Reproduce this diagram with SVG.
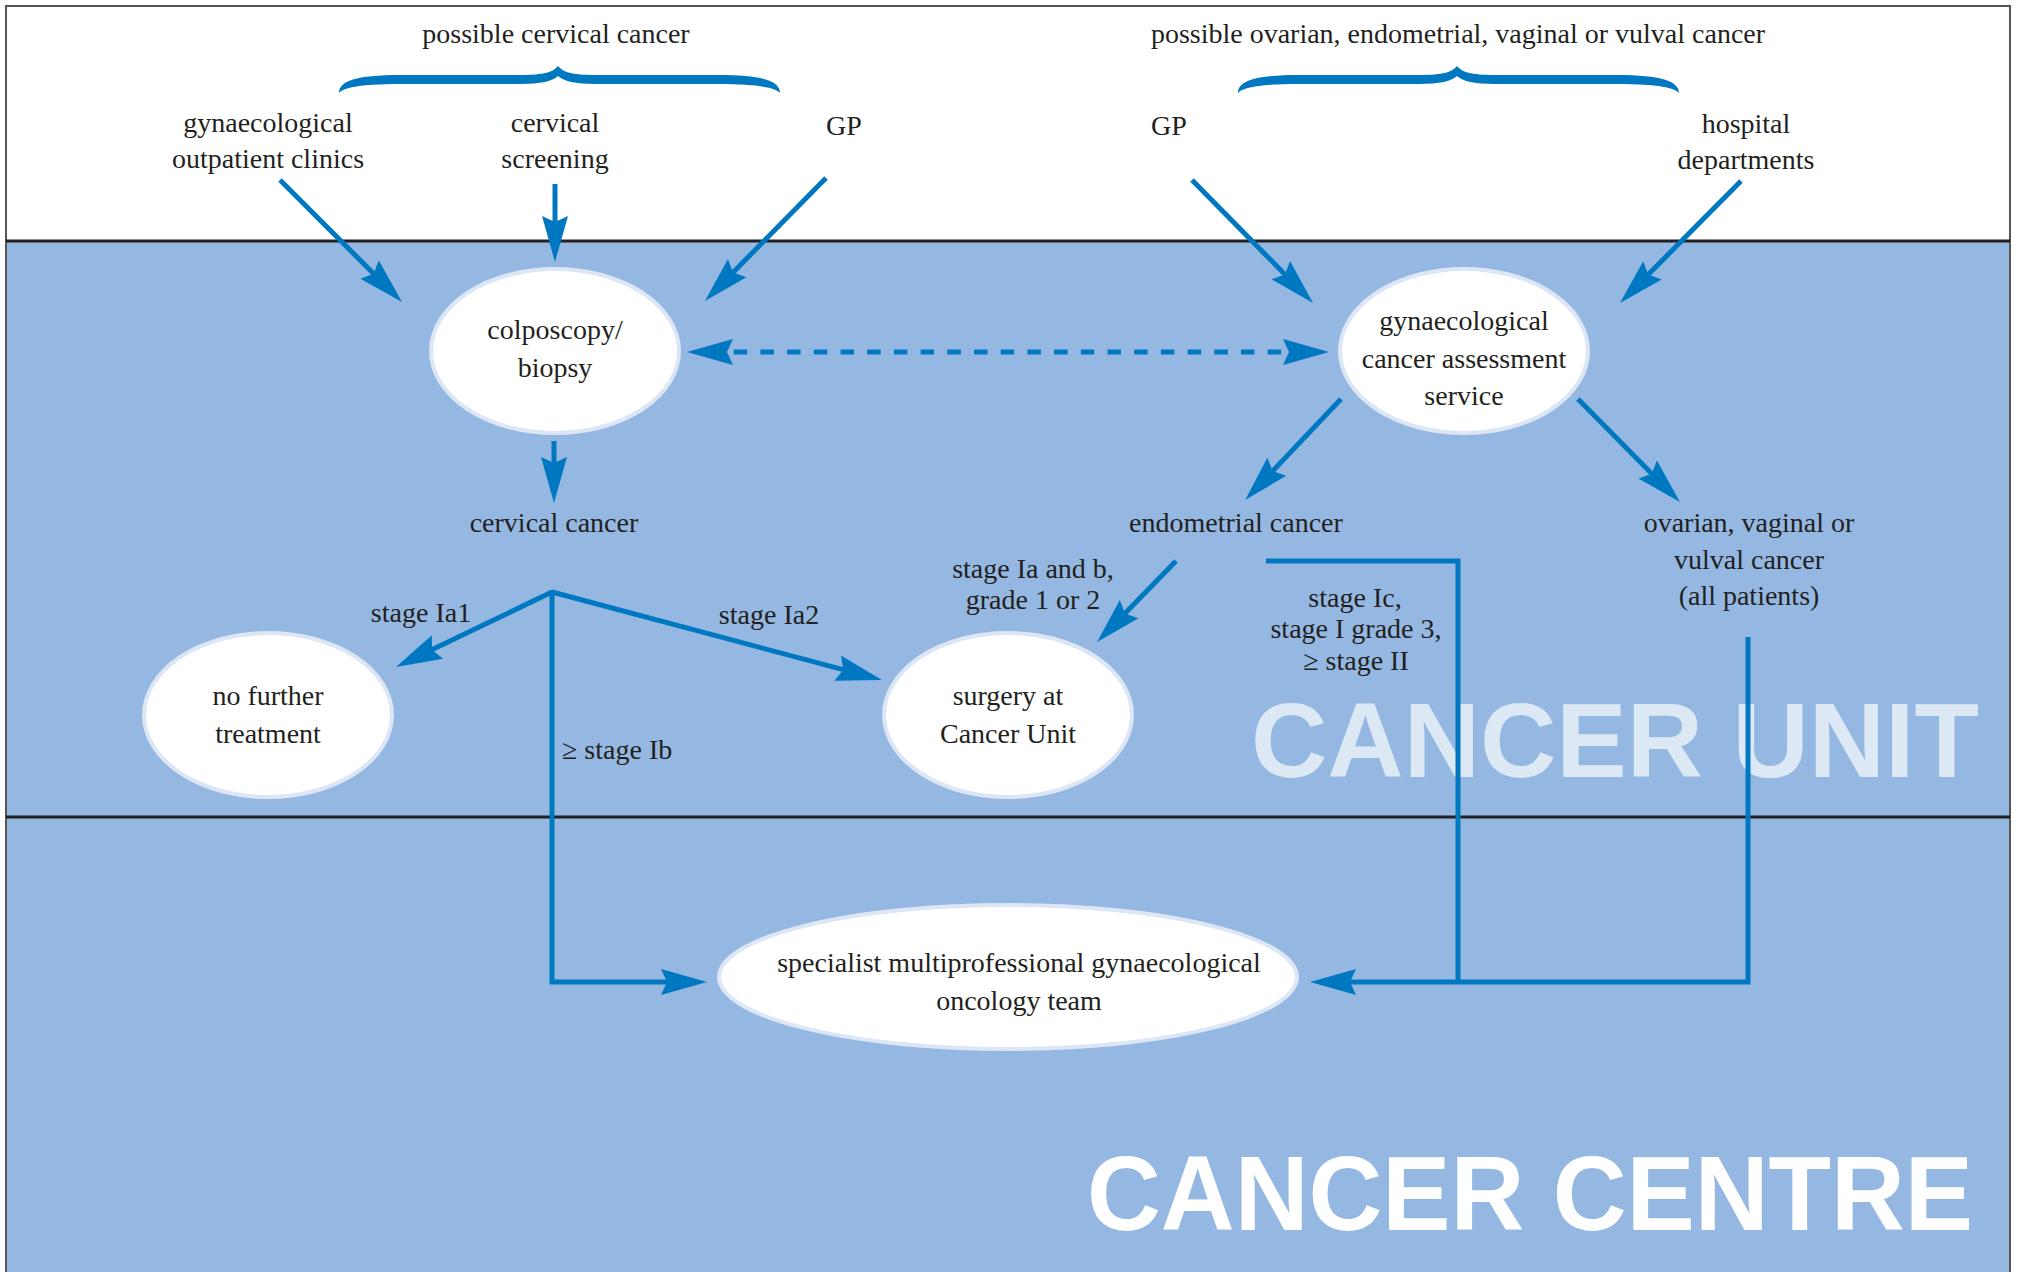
<svg xmlns="http://www.w3.org/2000/svg" width="2018" height="1272" viewBox="0 0 2018 1272">
<style>
.t{font-family:"Liberation Serif","Times New Roman",serif;font-size:28px;fill:#231f20;text-anchor:middle}
.s{text-anchor:start}
.big{font-family:"Liberation Sans",Arial,sans-serif;font-weight:bold;font-size:106px;text-anchor:end}
.node{fill:#ffffff;stroke:#dce6f4;stroke-width:4}
.c{fill:none;stroke:#0078c1;stroke-width:5}
.ar{marker-end:url(#ah)}
.brace{fill:#0078c1}
</style>
<defs>
<marker id="ah" markerUnits="userSpaceOnUse" markerWidth="50" markerHeight="30" viewBox="0 -15 50 30" refX="26" refY="0" orient="auto">
<path d="M0,-13 L46,0 L0,13 L6,0 Z" fill="#0078c1"/>
</marker>
<marker id="ahs" markerUnits="userSpaceOnUse" markerWidth="50" markerHeight="30" viewBox="0 -15 50 30" refX="26" refY="0" orient="auto-start-reverse">
<path d="M0,-13 L46,0 L0,13 L6,0 Z" fill="#0078c1"/>
</marker>
<path id="br" d="M339,93 C339,81 356,75 400,75 L520,75 C545,75 553,72 558,66 C563,72 571,75 596,75 L718,75 C762,75 780,81 780,93 C776,88 760,84 718,84 L596,84 C575,84 563,81 558,76 C553,81 541,84 520,84 L400,84 C358,84 343,88 339,93 Z"/>
</defs>

<g id="background">
<rect x="6" y="6" width="2004" height="1280" fill="#ffffff" stroke="#555555" stroke-width="2"/>
<rect x="7" y="241" width="2002" height="1040" fill="#94b8e2"/>
<line x1="6" y1="241" x2="2010" y2="241" stroke="#231f20" stroke-width="3"/>
<line x1="6" y1="817" x2="2010" y2="817" stroke="#231f20" stroke-width="3"/>
<text class="big" x="1979" y="777" fill="#dde8f5" textLength="728" lengthAdjust="spacingAndGlyphs">CANCER UNIT</text>
<text class="big" x="1973" y="1230" fill="#ffffff" textLength="886" lengthAdjust="spacingAndGlyphs">CANCER CENTRE</text>
</g>

<g id="header-cervical">
<text class="t" x="556" y="43">possible cervical cancer</text>
<use href="#br" class="brace"/>
</g>
<g id="header-other">
<text class="t" x="1458" y="43">possible ovarian, endometrial, vaginal or vulval cancer</text>
<use href="#br" class="brace" transform="translate(899,0)"/>
</g>

<g id="src-gyn-outpatient">
<text class="t" x="268" y="132">gynaecological</text>
<text class="t" x="268" y="168">outpatient clinics</text>
</g>
<g id="src-cervical-screening">
<text class="t" x="555" y="132">cervical</text>
<text class="t" x="555" y="168">screening</text>
</g>
<g id="src-gp-left">
<text class="t" x="844" y="135">GP</text>
</g>
<g id="src-gp-right">
<text class="t" x="1169" y="135">GP</text>
</g>
<g id="src-hospital">
<text class="t" x="1746" y="133">hospital</text>
<text class="t" x="1746" y="169">departments</text>
</g>

<g id="connectors">
<line class="c ar" x1="280" y1="180" x2="387.9" y2="287.9"/>
<line class="c ar" x1="555" y1="184" x2="555" y2="242"/>
<line class="c ar" x1="826" y1="178" x2="719" y2="286.7"/>
<line class="c ar" x1="1192" y1="180" x2="1299" y2="288.7"/>
<line class="c ar" x1="1741" y1="181" x2="1634.1" y2="288.8"/>
<line class="c" x1="707" y1="352" x2="1309" y2="352" stroke-width="6" stroke-dasharray="13.5 13.2" style="marker-start:url(#ahs);marker-end:url(#ah)"/>
<line class="c ar" x1="554" y1="441" x2="554" y2="483"/>
<line class="c ar" x1="1341" y1="399" x2="1258.9" y2="485.6"/>
<line class="c ar" x1="1578" y1="399" x2="1665.9" y2="487.9"/>
<line class="c ar" x1="552" y1="592" x2="414" y2="658.3"/>
<line class="c ar" x1="552" y1="592" x2="862.7" y2="674.8"/>
<line class="c ar" x1="1176" y1="561" x2="1111" y2="627.7"/>
<path class="c ar" d="M552,590 V982 H687"/>
<path class="c" d="M1266,561 H1458 V982"/>
<path class="c ar" d="M1748,637 V982 H1330"/>
</g>

<g id="node-colposcopy">
<ellipse class="node" cx="555" cy="351" rx="124" ry="82"/>
<text class="t" x="555" y="339">colposcopy/</text>
<text class="t" x="555" y="377">biopsy</text>
</g>
<g id="node-assessment">
<ellipse class="node" cx="1464" cy="351" rx="124" ry="82"/>
<text class="t" x="1464" y="330">gynaecological</text>
<text class="t" x="1464" y="368">cancer assessment</text>
<text class="t" x="1464" y="405">service</text>
</g>
<g id="label-cervical-cancer">
<text class="t" x="554" y="532">cervical cancer</text>
</g>
<g id="label-endometrial-cancer">
<text class="t" x="1236" y="532">endometrial cancer</text>
</g>
<g id="label-ovarian">
<text class="t" x="1749" y="532">ovarian, vaginal or</text>
<text class="t" x="1749" y="569">vulval cancer</text>
<text class="t" x="1749" y="605">(all patients)</text>
</g>
<g id="edge-labels">
<text class="t" x="421" y="622">stage Ia1</text>
<text class="t" x="769" y="624">stage Ia2</text>
<text class="t s" x="562" y="759">≥ stage Ib</text>
<text class="t" x="1033" y="578">stage Ia and b,</text>
<text class="t" x="1033" y="609">grade 1 or 2</text>
<text class="t" x="1355" y="607">stage Ic,</text>
<text class="t" x="1356" y="638">stage I grade 3,</text>
<text class="t" x="1356" y="670">≥ stage II</text>
</g>
<g id="node-no-further">
<ellipse class="node" cx="268" cy="715" rx="124" ry="82"/>
<text class="t" x="268" y="705">no further</text>
<text class="t" x="268" y="743">treatment</text>
</g>
<g id="node-surgery">
<ellipse class="node" cx="1008" cy="715" rx="124" ry="82"/>
<text class="t" x="1008" y="705">surgery at</text>
<text class="t" x="1008" y="743">Cancer Unit</text>
</g>
<g id="node-specialist">
<ellipse class="node" cx="1008" cy="977" rx="289" ry="72"/>
<text class="t" x="1019" y="972">specialist multiprofessional gynaecological</text>
<text class="t" x="1019" y="1010">oncology team</text>
</g>
</svg>
